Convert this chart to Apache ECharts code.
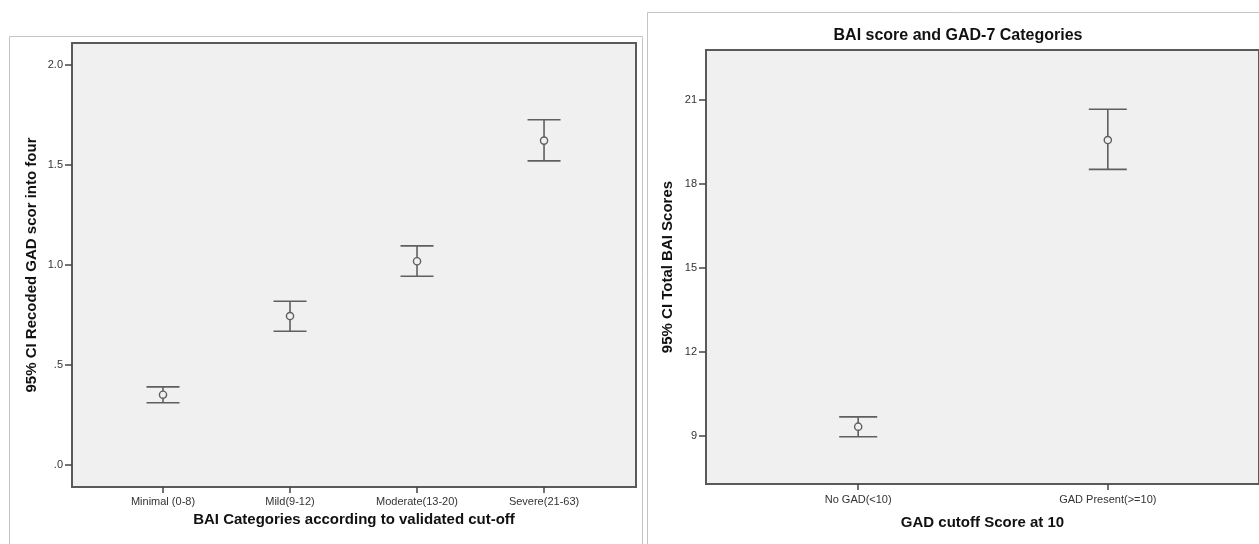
<!DOCTYPE html>
<html>
<head>
<meta charset="utf-8">
<script src="https://cdn.jsdelivr.net/npm/echarts@6/dist/echarts.min.js"></script>
<style>
html,body{margin:0;padding:0;background:#fff;}
#chart{width:1259px;height:544px;}
</style>
</head>
<body>
<div id="chart"></div>
<script>
// ---- Data ----
const leftCategories = ['Minimal (0-8)', 'Mild(9-12)', 'Moderate(13-20)', 'Severe(21-63)'];
const leftMean  = [0.350, 0.743, 1.017, 1.620];
const leftLower = [0.310, 0.667, 0.942, 1.519];
const leftUpper = [0.389, 0.817, 1.094, 1.724];
const leftYTicks = [0, 0.5, 1.0, 1.5, 2.0];

const rightCategories = ['No GAD(<10)', 'GAD Present(>=10)'];
const rightMean  = [9.32, 19.57];
const rightLower = [8.96, 18.52];
const rightUpper = [9.67, 20.67];
const rightYTicks = [9, 12, 15, 18, 21];

const leftXTitle = 'BAI Categories according to validated cut-off';
const leftYTitle = '95% CI Recoded GAD scor into four';
const rightXTitle = 'GAD cutoff Score at 10';
const rightYTitle = '95% CI Total BAI Scores';
const rightTitle = 'BAI score and GAD-7 Categories';

// ---- Build ----
const FONT = '"Liberation Sans", Arial, sans-serif';
const leftData = leftCategories.map((c, i) => [i, leftLower[i], leftUpper[i], leftMean[i]]);
const rightData = rightCategories.map((c, i) => [i, rightLower[i], rightUpper[i], rightMean[i]]);

function errRender(halfCap) {
  return function (params, api) {
    const x = api.value(0);
    const pLo = api.coord([x, api.value(1)]);
    const pHi = api.coord([x, api.value(2)]);
    const pM = api.coord([x, api.value(3)]);
    const st = { stroke: '#5f5f5f', lineWidth: 1.6 };
    return {
      type: 'group',
      children: [
        { type: 'line', shape: { x1: pHi[0], y1: pHi[1], x2: pLo[0], y2: pLo[1] }, style: st },
        { type: 'line', shape: { x1: pHi[0] - halfCap, y1: pHi[1], x2: pHi[0] + halfCap, y2: pHi[1] }, style: st },
        { type: 'line', shape: { x1: pLo[0] - halfCap, y1: pLo[1], x2: pLo[0] + halfCap, y2: pLo[1] }, style: st },
        { type: 'circle', shape: { cx: pM[0], cy: pM[1], r: 3.6 }, style: { fill: '#f0f0f0', stroke: '#5f5f5f', lineWidth: 1.4 } }
      ]
    };
  };
}

const tickLabel = { color: '#333', fontSize: 11, fontFamily: FONT };
const nameStyle = { color: '#111', fontSize: 15, fontWeight: 'bold', fontFamily: FONT };
const axLine = { show: true, onZero: false, lineStyle: { color: '#5a5a5a', width: 2 } };

const chart = echarts.init(document.getElementById('chart'), null, { renderer: 'canvas' });
chart.setOption({
  animation: false,
  backgroundColor: '#ffffff',
  graphic: [
    { type: 'rect', shape: { x: 9.5, y: 36.5, width: 633, height: 600 }, style: { fill: 'none', stroke: '#c4c4c4', lineWidth: 1 }, z: -10 },
    { type: 'rect', shape: { x: 647.5, y: 12.5, width: 700, height: 600 }, style: { fill: 'none', stroke: '#c4c4c4', lineWidth: 1 }, z: -10 },
    { type: 'text', x: 958, y: 28, style: { text: rightTitle, align: 'center', verticalAlign: 'top', font: 'bold 16px ' + FONT, fill: '#111' } }
  ],
  grid: [
    { left: 72, top: 43, right: 623, bottom: 57, show: true, backgroundColor: '#f0f0f0', borderColor: '#5a5a5a', borderWidth: 2 },
    { left: 706, top: 50, right: -3, bottom: 60, show: true, backgroundColor: '#f0f0f0', borderColor: '#5a5a5a', borderWidth: 2 }
  ],
  xAxis: [
    {
      gridIndex: 0, type: 'value', min: -0.7165, max: 3.724,
      splitLine: { show: false },
      axisLine: axLine,
      axisTick: { show: true, length: 6, customValues: leftCategories.map((c, i) => i), lineStyle: { color: '#444', width: 1.5 } },
      axisLabel: { customValues: leftCategories.map((c, i) => i), formatter: v => leftCategories[Math.round(v)], margin: 9, ...tickLabel },
      name: leftXTitle, nameLocation: 'middle', nameGap: 23, nameTextStyle: nameStyle
    },
    {
      gridIndex: 1, type: 'value', min: -0.6096, max: 1.6056,
      splitLine: { show: false },
      axisLine: axLine,
      axisTick: { show: true, length: 6, customValues: rightCategories.map((c, i) => i), lineStyle: { color: '#444', width: 1.5 } },
      axisLabel: { customValues: rightCategories.map((c, i) => i), formatter: v => rightCategories[Math.round(v)], margin: 10, ...tickLabel },
      name: rightXTitle, nameLocation: 'middle', nameGap: 31, nameTextStyle: nameStyle
    }
  ],
  yAxis: [
    {
      gridIndex: 0, type: 'value', min: -0.1115, max: 2.108,
      splitLine: { show: false },
      axisLine: axLine,
      axisTick: { show: true, length: 7, customValues: leftYTicks, lineStyle: { color: '#444', width: 1.5 } },
      axisLabel: { customValues: leftYTicks, formatter: v => v.toFixed(1).replace(/^0/, ''), margin: 9, ...tickLabel },
      name: leftYTitle, nameLocation: 'middle', nameGap: 33, nameTextStyle: nameStyle
    },
    {
      gridIndex: 1, type: 'value', min: 7.27, max: 22.79,
      splitLine: { show: false },
      axisLine: axLine,
      axisTick: { show: true, length: 7, customValues: rightYTicks, lineStyle: { color: '#444', width: 1.5 } },
      axisLabel: { customValues: rightYTicks, formatter: v => String(v), margin: 9, ...tickLabel },
      name: rightYTitle, nameLocation: 'middle', nameGap: 31, nameTextStyle: nameStyle
    }
  ],
  series: [
    { type: 'custom', xAxisIndex: 0, yAxisIndex: 0, data: leftData, encode: { x: 0, y: [1, 2, 3] }, renderItem: errRender(16.5), clip: false },
    { type: 'custom', xAxisIndex: 1, yAxisIndex: 1, data: rightData, encode: { x: 0, y: [1, 2, 3] }, renderItem: errRender(19), clip: false }
  ]
});
</script>
</body>
</html>
